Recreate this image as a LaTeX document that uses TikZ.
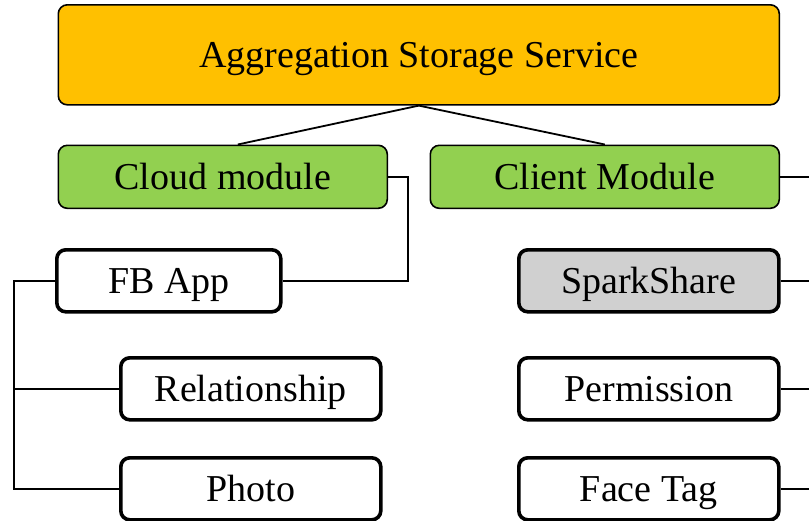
\documentclass[tikz,border=0pt]{standalone}
\usepackage{fontspec}
\setmainfont{Liberation Serif}
\definecolor{topfill}{HTML}{FFC000}
\definecolor{modfill}{HTML}{92D050}
\definecolor{grayfill}{HTML}{D0D0D0}
\begin{document}
\begin{tikzpicture}[x=1pt,y=-1pt,
  base/.style={draw=black, rounded corners=9pt, anchor=north west, inner sep=0pt,
    font=\fontsize{38}{40}\selectfont, text height=25pt, text depth=0pt, align=center},
  thinbox/.style={base, line width=1.6pt},
  thickbox/.style={base, line width=3.6pt, fill=white},
  conn/.style={draw=black, line width=1.8pt}]
\useasboundingbox (0,0) rectangle (809,520);
\node[thinbox, fill=topfill, minimum width=721pt, minimum height=100pt] (top) at (57.5,4) {Aggregation Storage Service};
\node[thinbox, fill=modfill, minimum width=329pt, minimum height=63pt] (cloud) at (57.5,144.5) {Cloud module};
\node[thinbox, fill=modfill, minimum width=349pt, minimum height=63pt] (client) at (429.5,144.5) {Client Module};
\node[thickbox, minimum width=224pt, minimum height=62pt] (fb) at (55,248) {FB App};
\node[thickbox, minimum width=260pt, minimum height=62pt] (rel) at (119,356) {Relationship};
\node[thickbox, minimum width=260pt, minimum height=62pt] (photo) at (119,456) {Photo};
\node[thickbox, fill=grayfill, minimum width=260pt, minimum height=62pt] (spark) at (517,248) {SparkShare};
\node[thickbox, minimum width=260pt, minimum height=62pt] (perm) at (517,356) {Permission};
\node[thickbox, minimum width=260pt, minimum height=62pt] (face) at (517,456) {Face Tag};
\coordinate (edge) at (809,0);
\coordinate (bus) at (14,0);
\coordinate (cbus) at (408,0);
% top to modules
\draw[conn] (top.south) -- ([xshift=15pt]cloud.north);
\draw[conn] (top.south) -- (client.north);
% cloud branch
\draw[conn] (cloud.east) -- (cloud.east -| cbus) |- (fb.east);
\draw[conn] (fb.west) -- (fb.west -| bus) |- (photo.west);
\draw[conn] (rel.west) -- (rel.west -| bus);
% client side lines going off the right edge
\draw[conn] (client.east) -- (client.east -| edge);
\draw[conn] (spark.east) -- (spark.east -| edge);
\draw[conn] (perm.east) -- (perm.east -| edge);
\draw[conn] (face.east) -- (face.east -| edge);
\end{tikzpicture}
\end{document}
